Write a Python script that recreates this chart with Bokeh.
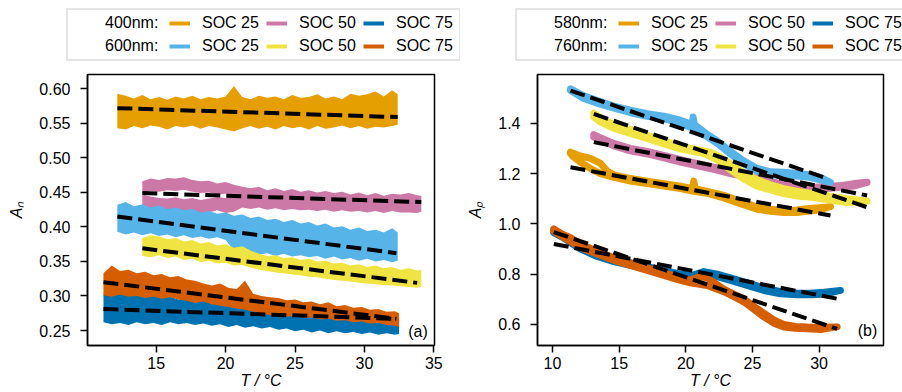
from bokeh.plotting import figure
from bokeh.layouts import row, column
from bokeh.models import FixedTicker, PrintfTickFormatter, Legend, LegendItem, Label
from bokeh.embed import file_html
from bokeh.resources import INLINE

FONT = "Liberation Sans"
C_ORANGE = "#E69F00"
C_PINK = "#CC79A7"
C_BLUE = "#0072B2"
C_SKY = "#56B4E9"
C_YELLOW = "#F0E442"
C_VERM = "#D55E00"
NAN = float("nan")

# ---------------- panel (a) data: temperature grids and band edges ----------------
T_A = [12.2, 12.8, 13.4, 14.0, 14.6, 15.2, 15.8, 16.4, 17.0, 17.6, 18.2, 18.8, 19.4, 20.0, 20.6, 21.2, 21.8,
       22.4, 23.0, 23.6, 24.2, 24.8, 25.4, 26.0, 26.6, 27.2, 27.8, 28.4, 29.0, 29.6, 30.2, 30.8, 31.4, 32.0, 32.4]
T_B = [14.0, 14.6, 15.2, 15.8, 16.4, 17.0, 17.6, 18.2, 18.8, 19.4, 20.0, 20.6, 21.2, 21.8, 22.4, 23.0, 23.6,
       24.2, 24.8, 25.4, 26.0, 26.6, 27.2, 27.8, 28.4, 29.0, 29.6, 30.2, 30.8, 31.4, 32.0, 32.6, 33.2, 33.8, 34.1]
T_B_UP = T_B[:13]
T_C = [11.2, 11.8, 12.4, 13.0, 13.6, 14.2, 14.8, 15.4, 16.0, 16.6, 17.2, 17.8, 18.4, 19.0, 19.6, 20.2, 20.8,
       21.4, 22.0, 22.6, 23.2, 23.8, 24.4, 25.0, 25.6, 26.2, 26.8, 27.4, 28.0, 28.6, 29.2, 29.8, 30.4, 31.0,
       31.6, 32.2, 32.5]

an400_soc25_hi = [0.593, 0.590, 0.586, 0.591, 0.585, 0.588, 0.584, 0.589, 0.586, 0.590, 0.585, 0.588, 0.586,
                  0.589, 0.604, 0.588, 0.585, 0.590, 0.587, 0.589, 0.585, 0.591, 0.587, 0.588, 0.592, 0.586,
                  0.589, 0.585, 0.593, 0.590, 0.592, 0.596, 0.589, 0.598, 0.592]
an400_soc25_lo = [0.543, 0.541, 0.546, 0.543, 0.547, 0.545, 0.541, 0.546, 0.544, 0.547, 0.542, 0.546, 0.544,
                  0.541, 0.538, 0.543, 0.546, 0.542, 0.545, 0.541, 0.546, 0.543, 0.545, 0.541, 0.546, 0.542,
                  0.544, 0.547, 0.543, 0.546, 0.542, 0.545, 0.544, 0.546, 0.548]

an400_soc50_hi = [0.447, 0.444, 0.442, 0.441, 0.443, 0.440, 0.442, 0.439, 0.441, 0.443, 0.442, 0.444,
                  0.458, 0.456, 0.458, 0.453, 0.456, 0.452, 0.455, 0.451, 0.453, 0.450, 0.452, 0.449, 0.451,
                  0.447, 0.450, 0.446, 0.449, 0.445, 0.448, 0.447, 0.449, 0.446, 0.445]
an400_soc50_lo = [0.432, 0.426, 0.423, 0.421, 0.424, 0.420, 0.422, 0.418, 0.421, 0.424, 0.420, 0.422,
                  0.428, 0.426, 0.428, 0.425, 0.427, 0.424, 0.426, 0.424, 0.425, 0.423, 0.425, 0.422, 0.424,
                  0.422, 0.423, 0.421, 0.423, 0.420, 0.423, 0.421, 0.421, 0.420, 0.422]
an400_soc50_up_hi = [0.466, 0.470, 0.468, 0.471, 0.470, 0.472, 0.468, 0.466, 0.467, 0.463, 0.465, 0.461, 0.458]
an400_soc50_up_lo = [0.449, 0.452, 0.451, 0.453, 0.452, 0.454, 0.451, 0.449, 0.450, 0.447, 0.448, 0.446, 0.446]

an400_soc75_hi = [0.303, 0.301, 0.305, 0.302, 0.308, 0.300, 0.302, 0.297, 0.299, 0.295, 0.297, 0.292, 0.295,
                  0.290, 0.292, 0.288, 0.290, 0.286, 0.288, 0.283, 0.285, 0.281, 0.283, 0.279, 0.281, 0.277,
                  0.279, 0.275, 0.277, 0.273, 0.275, 0.271, 0.273, 0.270, 0.271, 0.268, 0.269]
an400_soc75_lo = [0.262, 0.259, 0.261, 0.258, 0.262, 0.259, 0.261, 0.258, 0.262, 0.259, 0.261, 0.258, 0.260,
                  0.257, 0.259, 0.255, 0.258, 0.254, 0.256, 0.253, 0.255, 0.251, 0.253, 0.249, 0.251, 0.247,
                  0.250, 0.246, 0.249, 0.246, 0.248, 0.245, 0.247, 0.244, 0.246, 0.244, 0.245]

an600_soc25_hi = [0.432, 0.436, 0.430, 0.433, 0.428, 0.431, 0.426, 0.428, 0.424, 0.426, 0.421, 0.423, 0.419,
                  0.421, 0.416, 0.418, 0.413, 0.415, 0.410, 0.412, 0.407, 0.410, 0.405, 0.407, 0.402, 0.405,
                  0.399, 0.401, 0.396, 0.399, 0.394, 0.396, 0.392, 0.398, 0.392]
an600_soc25_lo = [0.393, 0.389, 0.392, 0.388, 0.391, 0.387, 0.389, 0.385, 0.388, 0.384, 0.386, 0.383, 0.385,
                  0.381, 0.366, 0.362, 0.364, 0.360, 0.362, 0.358, 0.361, 0.357, 0.359, 0.356, 0.358, 0.354,
                  0.357, 0.353, 0.355, 0.351, 0.354, 0.350, 0.352, 0.349, 0.351]

an600_soc50_hi = [0.384, 0.388, 0.386, 0.382, 0.384, 0.379, 0.381, 0.376, 0.378, 0.373, 0.375, 0.370, 0.372,
                  0.366, 0.361, 0.358, 0.359, 0.355, 0.356, 0.352, 0.354, 0.350, 0.351, 0.347, 0.348, 0.344,
                  0.346, 0.342, 0.344, 0.340, 0.342, 0.338, 0.340, 0.337, 0.338]
an600_soc50_lo = [0.358, 0.356, 0.359, 0.355, 0.357, 0.352, 0.354, 0.349, 0.351, 0.347, 0.348, 0.344, 0.345,
                  0.341, 0.338, 0.336, 0.334, 0.333, 0.331, 0.330, 0.328, 0.327, 0.325, 0.323, 0.322, 0.321,
                  0.319, 0.318, 0.317, 0.316, 0.315, 0.314, 0.313, 0.312, 0.313]

an600_soc75_hi = [0.333, 0.344, 0.336, 0.338, 0.333, 0.335, 0.330, 0.332, 0.327, 0.329, 0.324, 0.322, 0.318,
                  0.315, 0.318, 0.312, 0.310, 0.322, 0.303, 0.300, 0.298, 0.297, 0.294, 0.295, 0.291, 0.292,
                  0.288, 0.291, 0.285, 0.287, 0.283, 0.284, 0.280, 0.281, 0.277, 0.278, 0.275]
an600_soc75_lo = [0.301, 0.299, 0.302, 0.299, 0.300, 0.297, 0.299, 0.296, 0.298, 0.295, 0.293, 0.290, 0.292,
                  0.288, 0.286, 0.284, 0.282, 0.280, 0.277, 0.275, 0.272, 0.273, 0.270, 0.271, 0.268, 0.269,
                  0.266, 0.267, 0.264, 0.265, 0.262, 0.263, 0.260, 0.261, 0.258, 0.257, 0.255]

# linear fits (start T, end T, start A, end A)
fit_an400_soc25 = [12.2, 32.4, 0.572, 0.559]
fit_an400_soc50 = [14.0, 34.1, 0.449, 0.436]
fit_an400_soc75 = [11.2, 32.2, 0.281, 0.267]
fit_an600_soc25 = [12.2, 32.3, 0.415, 0.362]
fit_an600_soc50 = [14.0, 33.8, 0.369, 0.319]
fit_an600_soc75 = [11.2, 32.3, 0.320, 0.267]

# ---------------- panel (b) data: heating + cooling paths ----------------
ap580_soc25_T = [11.35, 12.1, 12.85, 13.6, 14.1, 14.6, 15.85, 17.1, 18.35, 19.6, 20.5, 20.6, 20.7, 21.7, 22.85,
                 24.1, 25.35, 26.35, 27.35, 28.3, 29.1, 30.0, 30.85,
                 30.0, 29.1, 28.3, 27.35, 26.35, 25.35, 24.1, 22.85, 21.7, 20.5, 19.6, 18.35, 17.1, 15.85,
                 14.6, 13.6, 12.85, 12.1, 11.5, 11.35]
ap580_soc25_A = [1.285, 1.27, 1.26, 1.24, 1.21, 1.195, 1.18, 1.17, 1.16, 1.15, 1.14, 1.17, 1.14, 1.128, 1.113,
                 1.09, 1.067, 1.058, 1.053, 1.055, 1.06, 1.064, 1.068,
                 1.055, 1.05, 1.045, 1.045, 1.05, 1.058, 1.08, 1.103, 1.12, 1.13, 1.14, 1.15, 1.16, 1.17,
                 1.185, 1.20, 1.22, 1.245, 1.27, 1.28]

ap580_soc50_T = [13.1, 13.5, 14.6, 15.85, 17.1, 18.35, 19.6, 20.8, 22.1, 23.35, 24.6, 25.85, 27.1, 28.35, 29.6,
                 30.6, 31.6, 32.6, 33.6,
                 32.6, 31.6, 30.6, 29.6, 28.35, 27.1, 25.85, 24.6, 23.35, 22.1, 20.8, 19.6, 18.35, 17.1, 15.85,
                 14.6, 13.5, 13.1]
ap580_soc50_A = [1.355, 1.345, 1.32, 1.30, 1.288, 1.272, 1.255, 1.24, 1.225, 1.21, 1.192, 1.175, 1.16, 1.152,
                 1.146, 1.148, 1.152, 1.16, 1.165,
                 1.15, 1.145, 1.14, 1.14, 1.146, 1.152, 1.168, 1.185, 1.20, 1.217, 1.232, 1.246, 1.262, 1.278,
                 1.29, 1.31, 1.335, 1.345]

ap580_soc75_T = [10.1, 10.8, 11.35, 12.1, 13.35, 14.6, 15.85, 17.1, 18.35, 19.6, 20.5, 21.35, 22.35, 23.35,
                 24.6, 25.85, 27.1, 28.35, 29.35, 30.35, 31.6,
                 30.35, 29.35, 28.35, 27.1, 25.85, 24.6, 23.35, 22.35, 21.35, 20.5, 19.6, 18.35, 17.1, 15.85,
                 14.6, 13.35, 12.1, 11.35, 10.8, 10.1]
ap580_soc75_A = [0.975, 0.955, 0.935, 0.91, 0.88, 0.86, 0.845, 0.83, 0.815, 0.80, 0.795, 0.81, 0.80, 0.785,
                 0.765, 0.745, 0.73, 0.724, 0.724, 0.728, 0.735,
                 0.72, 0.718, 0.718, 0.722, 0.735, 0.755, 0.775, 0.79, 0.80, 0.79, 0.79, 0.805, 0.82, 0.835,
                 0.85, 0.87, 0.90, 0.925, 0.945, 0.965]

ap760_soc25_T = [11.35, 12.3, 13.35, 14.6, 15.85, 17.1, 18.35, 19.6, 20.48, 20.55, 20.65, 21.5, 22.35, 23.3,
                 24.3, 25.3, 26.35, 27.3, 28.35, 29.3, 30.1, 30.85,
                 30.1, 29.3, 28.35, 27.3, 26.35, 25.3, 24.3, 23.3, 22.35, 21.5, 20.5, 19.6, 18.35, 17.1,
                 15.85, 14.6, 13.35, 12.3, 11.35]
ap760_soc25_A = [1.537, 1.51, 1.49, 1.468, 1.452, 1.438, 1.428, 1.412, 1.395, 1.425, 1.395, 1.36, 1.331, 1.29,
                 1.252, 1.222, 1.207, 1.205, 1.2, 1.195, 1.185, 1.165,
                 1.175, 1.185, 1.19, 1.192, 1.195, 1.21, 1.24, 1.28, 1.32, 1.35, 1.38, 1.40, 1.418, 1.428,
                 1.442, 1.46, 1.48, 1.50, 1.53]

ap760_soc50_T = [13.1, 13.6, 14.6, 15.85, 17.1, 18.35, 19.6, 20.8, 21.85, 22.6, 23.35, 24.3, 25.35, 26.35,
                 27.35, 28.5, 29.6, 30.85, 32.1, 33.6,
                 32.1, 30.85, 29.6, 28.5, 27.35, 26.35, 25.35, 24.3, 23.35, 22.35, 21.35, 20.3, 19.6, 18.35,
                 17.1, 15.85, 14.6, 13.6, 13.1]
ap760_soc50_A = [1.44, 1.42, 1.395, 1.375, 1.352, 1.33, 1.31, 1.295, 1.285, 1.265, 1.24, 1.205, 1.175, 1.155,
                 1.14, 1.128, 1.12, 1.11, 1.10, 1.09,
                 1.085, 1.095, 1.105, 1.11, 1.12, 1.135, 1.15, 1.18, 1.215, 1.255, 1.28, 1.29, 1.298, 1.318,
                 1.34, 1.36, 1.38, 1.405, 1.425]

ap760_soc75_T = [10.1, 10.7, 11.35, 12.1, 13.35, 14.6, 15.85, 17.1, 18.35, 19.6, 20.35, 21.0, 21.6, 22.85,
                 23.6, 24.35, 25.1, 25.85, 26.6, 27.35, 28.2, 29.1, 30.2, 31.35,
                 30.2, 29.1, 28.2, 27.35, 26.6, 25.85, 25.1, 24.35, 23.6, 22.85, 21.6, 20.35, 19.6, 18.35,
                 17.1, 15.85, 14.6, 13.35, 12.1, 11.35, 10.7, 10.1]
ap760_soc75_A = [0.98, 0.96, 0.945, 0.92, 0.89, 0.865, 0.845, 0.825, 0.805, 0.785, 0.775, 0.79, 0.785, 0.74,
                 0.72, 0.702, 0.672, 0.645, 0.618, 0.60, 0.592, 0.59, 0.589, 0.59,
                 0.58, 0.583, 0.585, 0.59, 0.605, 0.63, 0.66, 0.69, 0.71, 0.73, 0.755, 0.765, 0.775, 0.795,
                 0.815, 0.835, 0.855, 0.88, 0.905, 0.93, 0.95, 0.97]

fit_ap580_soc25 = [11.35, 30.85, 1.225, 1.033]
fit_ap580_soc50 = [13.1, 33.6, 1.325, 1.113]
fit_ap580_soc75 = [10.1, 31.35, 0.920, 0.702]
fit_ap760_soc25 = [11.35, 30.35, 1.530, 1.185]
fit_ap760_soc50 = [13.1, 33.6, 1.437, 1.066]
fit_ap760_soc75 = [10.1, 31.35, 0.967, 0.582]

# ticks
xticks_a = [15, 20, 25, 30, 35]
yticks_a = [0.25, 0.30, 0.35, 0.40, 0.45, 0.50, 0.55, 0.60]
xticks_b = [10, 15, 20, 25, 30]
yticks_b = [0.6, 0.8, 1.0, 1.2, 1.4]

SOC_LABELS = ["SOC 25", "SOC 50", "SOC 75"]
ROW_LABELS_A = ["400nm:", "600nm:"]
ROW_LABELS_B = ["580nm:", "760nm:"]

FS = "16px"
LEG_H = 73
PLOT_H = 319


def make_fig(width, xr, yr, bl, br):
    p = figure(width=width, height=PLOT_H, x_range=xr, y_range=yr, output_backend="svg",
               toolbar_location=None, min_border_left=bl, min_border_right=br,
               min_border_top=1, min_border_bottom=47)
    p.grid.visible = False
    p.background_fill_color = "white"
    p.border_fill_color = "white"
    p.outline_line_color = "black"
    p.outline_line_width = 1.5
    for ax in (p.xaxis[0], p.yaxis[0]):
        ax.axis_line_color = "black"
        ax.axis_line_width = 1.5
        ax.major_tick_line_width = 1.5
        ax.major_tick_line_color = "black"
        ax.major_tick_out = 7
        ax.major_tick_in = 0
        ax.minor_tick_line_color = None
        ax.major_label_text_font = FONT
        ax.major_label_text_font_size = FS
        ax.major_label_text_color = "black"
        ax.axis_label_text_font = FONT
        ax.axis_label_text_font_size = FS
        ax.axis_label_text_color = "black"
    p.xaxis[0].major_label_standoff = 4
    p.xaxis[0].axis_label_standoff = 0
    p.yaxis[0].major_label_standoff = 10
    p.yaxis[0].axis_label_standoff = 11
    p.yaxis[0].axis_label_text_font_style = "italic"
    return p


def add_fit(p, f):
    p.line([f[0], f[1]], [f[2], f[3]], line_color="black", line_width=4, line_dash="15 6")


def make_legend_fig(width, row_labels, colors_top, colors_bot, vx):
    lf = figure(width=width, height=LEG_H, output_backend="svg", toolbar_location=None,
                min_border=0, min_border_left=0, min_border_right=0, min_border_top=0, min_border_bottom=0,
                x_axis_location=None, y_axis_location=None, x_range=(0, 1), y_range=(0, 1),
                frame_align=False)
    lf.grid.visible = False
    lf.outline_line_color = None
    lf.background_fill_color = "white"
    lf.border_fill_color = "white"
    items = []
    for rl, cols in ((row_labels[0], colors_top), (row_labels[1], colors_bot)):
        blank = lf.line(x=[NAN], y=[NAN], line_alpha=0)
        items.append(LegendItem(label=rl, renderers=[blank]))
        for lab, c in zip(SOC_LABELS, cols):
            r = lf.line(x=[NAN], y=[NAN], line_color=c, line_width=4)
            items.append(LegendItem(label=lab, renderers=[r]))
    leg = Legend(items=items, location=(vx, 12), orientation="horizontal", ncols=4,
                 label_text_font=FONT, label_text_font_size=FS, label_text_color="black",
                 glyph_width=21, glyph_height=16, label_standoff=12, label_width=59,
                 spacing=5, padding=4, margin=0,
                 border_line_color="#cccccc", border_line_width=2, background_fill_color="white",
                 background_fill_alpha=1.0)
    lf.add_layout(leg)
    return lf


# ---------------- panel (a) ----------------
pa = make_fig(460, (10.05, 35.05), (0.2283, 0.6207), 87, 26)
pa.varea(x=T_A, y1=an400_soc25_lo, y2=an400_soc25_hi, fill_color=C_ORANGE)
pa.varea(x=T_B, y1=an400_soc50_lo, y2=an400_soc50_hi, fill_color=C_PINK)
pa.varea(x=T_B_UP, y1=an400_soc50_up_lo, y2=an400_soc50_up_hi, fill_color=C_PINK)
pa.varea(x=T_C, y1=an400_soc75_lo, y2=an400_soc75_hi, fill_color=C_BLUE)
pa.varea(x=T_A, y1=an600_soc25_lo, y2=an600_soc25_hi, fill_color=C_SKY)
pa.varea(x=T_B, y1=an600_soc50_lo, y2=an600_soc50_hi, fill_color=C_YELLOW)
pa.varea(x=T_C, y1=an600_soc75_lo, y2=an600_soc75_hi, fill_color=C_VERM)
for f in (fit_an400_soc25, fit_an400_soc50, fit_an400_soc75, fit_an600_soc25, fit_an600_soc50, fit_an600_soc75):
    add_fit(pa, f)
pa.xaxis[0].ticker = FixedTicker(ticks=xticks_a)
pa.yaxis[0].ticker = FixedTicker(ticks=yticks_a)
pa.yaxis[0].formatter = PrintfTickFormatter(format="%.2f")
pa.xaxis[0].axis_label = "T / °C"
pa.yaxis[0].axis_label = "Aₙ"
pa.add_layout(Label(x=33.86, y=0.249, text="(a)", text_align="center", text_baseline="middle",
                    text_font=FONT, text_font_size=FS, text_color="black"))
la = make_legend_fig(460, ROW_LABELS_A, [C_ORANGE, C_PINK, C_BLUE], [C_SKY, C_YELLOW, C_VERM], 66)

# ---------------- panel (b) ----------------
pb = make_fig(442, (8.875, 34.83), (0.516, 1.594), 77, 19)
for T, A, c in ((ap580_soc25_T, ap580_soc25_A, C_ORANGE), (ap580_soc50_T, ap580_soc50_A, C_PINK),
                (ap580_soc75_T, ap580_soc75_A, C_BLUE), (ap760_soc25_T, ap760_soc25_A, C_SKY),
                (ap760_soc50_T, ap760_soc50_A, C_YELLOW), (ap760_soc75_T, ap760_soc75_A, C_VERM)):
    pb.line(T, A, line_color=c, line_width=7, line_join="round", line_cap="round")
for f in (fit_ap580_soc25, fit_ap580_soc50, fit_ap580_soc75, fit_ap760_soc25, fit_ap760_soc50, fit_ap760_soc75):
    add_fit(pb, f)
pb.xaxis[0].ticker = FixedTicker(ticks=xticks_b)
pb.yaxis[0].ticker = FixedTicker(ticks=yticks_b)
pb.yaxis[0].formatter = PrintfTickFormatter(format="%.1f")
pb.xaxis[0].axis_label = "T / °C"
pb.yaxis[0].axis_label = "Aₚ"
pb.add_layout(Label(x=33.63, y=0.5737, text="(b)", text_align="center", text_baseline="middle",
                    text_font=FONT, text_font_size=FS, text_color="black"))
lb = make_legend_fig(442, ROW_LABELS_B, [C_ORANGE, C_PINK, C_BLUE], [C_SKY, C_YELLOW, C_VERM], 55)

layout = row(column(la, pa, spacing=0), column(lb, pb, spacing=0), spacing=0)
open("out.html", "w").write(file_html(layout, INLINE))
